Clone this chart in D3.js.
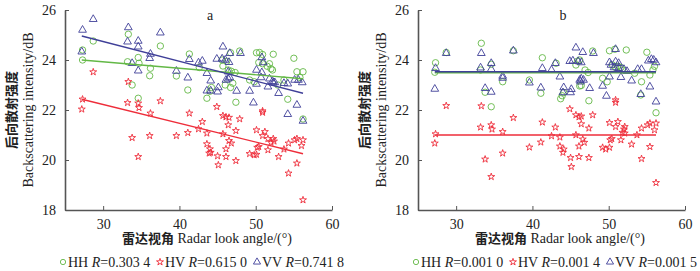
<!DOCTYPE html>
<html>
<head>
<meta charset="utf-8">
<script src="https://cdn.jsdelivr.net/npm/d3@7"></script>
<style>
body{margin:0;background:#fff}
text{font-family:"Liberation Serif","Times New Roman",serif;fill:#222}
.cn{font-family:"Noto Sans CJK SC",sans-serif;font-weight:700}
</style>
</head>
<body>
<svg id="svg1" width="700" height="271"></svg>
<script>
// panel a: raw values, panel b: after correction  [look angle, dB]
var aHH = [[27.3,24.4],[27.3,24.0],[28.7,24.76],[33.3,25.03],[33.2,23.93],[33.8,23.0],[34.6,24.1],[34.7,23.87],[34.6,22.47],[36.2,23.67],[36.1,23.37],[37.5,24.56],[39.6,23.36],[41.3,24.24],[41.1,22.8],
  [47.9,24.36],[50.1,24.29],[50.5,24.3],[50.9,24.22],[52.3,24.23],[55.0,24.07],[46.7,24.29],[45.7,23.76],[45.6,24.0],[46.2,23.95],[50.4,23.9],[50.9,23.85],[51.5,23.75],[51.8,23.85],[52.2,23.6],[52.0,23.65],
  [46.4,23.6],[46.8,23.55],[47.3,23.5],[49.2,23.2],[49.8,23.13],[46.0,23.0],[46.7,22.9],[47.0,23.07],[44.2,22.9],[44.0,22.75],[43.6,22.47],[47.4,22.31],[54.2,22.43],[53.7,23.2],[55.4,23.53],[56.2,23.53],
  [55.8,23.3],[56.2,21.64],[52.9,23.0],[42.6,23.7]];
var aHV = [[28.7,23.52],[27.3,22.43],[27.2,22.03],[33.3,23.13],[33.2,22.29],[34.6,22.27],[34.7,22.09],[36.2,21.87],[37.5,22.36],[41.3,21.87],[33.8,20.89],[36.1,20.97],[39.6,20.97],[41.1,21.09],[34.6,20.13],
  [44.9,22.13],[50.9,21.96],[50.9,21.9],[45.7,21.77],[46.1,21.72],[46.5,21.7],[47.9,21.64],[43.0,21.53],[46.4,21.4],[42.5,21.24],[43.6,21.07],[45.7,21.04],[47.4,21.17],[50.1,21.2],[51.2,21.13],[50.9,20.97],
  [51.6,20.85],[52.3,20.85],[52.4,20.75],[52.0,20.7],[46.5,20.77],[46.8,20.67],[43.6,20.64],[44.0,20.44],[44.1,20.3],[43.9,20.27],[46.1,20.44],[50.2,20.5],[50.4,20.53],[51.6,20.4],[53.7,20.43],[49.2,20.25],
  [49.8,20.2],[50.1,20.22],[55.1,20.8],[55.4,20.85],[56.2,20.8],[56.0,20.57],[54.3,20.67],[45.0,20.16],[46.1,20.13],[47.4,19.97],[45.1,19.8],[53.0,20.13],[55.4,19.87],[54.3,19.47],[56.2,18.4]];
var aVV = [[28.7,25.63],[27.3,25.2],[27.2,24.33],[33.3,25.3],[33.2,24.73],[34.6,24.76],[34.6,24.53],[36.2,24.24],[36.1,24.07],[33.8,23.87],[34.6,23.57],[37.5,25.09],[39.6,23.56],[41.1,23.29],[41.3,24.03],
  [45.7,24.53],[42.5,23.89],[43.0,23.96],[44.9,24.04],[45.6,24.05],[46.0,24.0],[46.5,23.91],[43.6,23.47],[46.4,23.53],[44.1,23.17],[46.1,23.2],[46.4,23.25],[46.6,23.3],[45.1,22.9],[45.0,22.73],[43.6,22.77],
  [44.1,22.77],[47.5,22.76],[48.0,24.27],[46.6,24.27],[50.1,23.6],[50.8,24.1],[51.0,23.9],[50.8,23.5],[50.7,23.3],[51.6,22.93],[49.2,22.76],[49.7,22.29],[50.1,23.04],[52.3,23.09],[52.5,23.1],[53.0,22.67],
  [53.7,23.07],[54.2,23.05],[55.1,23.2],[55.6,23.2],[56.1,23.1],[54.2,21.83],[55.4,22.2],[56.2,21.56],[51.8,23.25],[52.2,23.15]];

var bHH = [[28.7,24.3],[27.3,23.89],[27.2,23.51],[33.3,24.67],[33.2,23.6],[34.6,23.83],[33.8,22.71],[34.6,22.13],[36.1,23.13],[37.5,24.37],[39.6,23.2],[41.3,24.09],[41.1,22.67],
  [47.9,24.36],[50.1,24.37],[50.8,24.43],[52.3,24.4],[55.0,24.31],[43.1,23.87],[45.7,23.8],[46.2,24.0],[45.9,23.95],[50.5,23.8],[51.2,23.75],[51.6,23.7],[51.8,23.6],[50.9,23.7],[46.9,23.6],[47.3,23.5],
  [49.2,23.27],[49.8,23.13],[46.2,22.96],[46.4,22.98],[44.1,22.7],[43.7,22.45],[43.9,22.57],[47.4,22.37],[54.2,22.6],[54.3,23.13],[55.4,23.4],[56.0,23.75],[55.8,23.6],[56.2,21.89],[53.4,23.47]];
var bHV = [[28.7,22.17],[27.3,21.04],[27.2,20.67],[33.3,22.16],[33.2,21.31],[34.6,21.4],[34.7,21.23],[36.1,21.13],[37.5,21.69],[41.3,21.51],[33.8,20.03],[36.1,20.27],[39.6,20.51],[41.1,20.71],[34.6,19.33],
  [44.9,22.04],[50.9,22.4],[50.9,22.3],[45.7,21.8],[46.1,21.72],[46.4,21.75],[47.9,21.8],[43.0,21.31],[46.4,21.44],[47.4,21.27],[42.5,20.96],[43.6,20.91],[45.7,21.0],[50.1,21.49],[51.2,21.53],[50.9,21.33],
  [52.1,21.33],[52.0,21.23],[51.8,21.1],[52.1,21.07],[46.6,20.83],[46.8,20.7],[50.2,20.8],[50.4,20.85],[51.6,20.8],[53.7,21.0],[54.3,21.27],[55.1,21.4],[55.4,21.47],[56.2,21.47],[56.0,21.2],[43.6,20.55],
  [44.1,20.43],[44.0,20.3],[46.1,20.55],[49.2,20.5],[49.6,20.43],[50.1,20.5],[53.0,20.63],[55.4,20.53],[45.0,20.09],[46.1,20.13],[47.4,20.09],[45.1,19.73],[54.3,20.05],[56.2,19.09]];
var bVV = [[28.7,24.27],[27.3,23.67],[27.2,22.84],[33.3,24.27],[33.2,23.69],[34.6,23.87],[34.6,23.63],[36.1,23.36],[36.1,23.28],[33.8,22.87],[34.6,22.72],[37.5,24.37],[39.6,23.09],[41.3,23.67],[41.1,22.89],
  [45.7,24.49],[46.6,24.31],[48.0,24.27],[50.9,24.43],[43.0,23.87],[42.5,23.6],[44.9,23.95],[45.3,23.97],[46.0,23.95],[46.4,23.9],[43.6,23.33],[46.2,23.2],[46.4,23.25],[46.7,23.2],[46.3,23.13],[44.1,22.9],
  [44.0,22.7],[45.1,22.83],[45.0,22.7],[47.5,22.87],[50.1,23.9],[50.3,23.8],[50.9,23.93],[51.3,23.87],[50.7,23.7],[51.3,23.67],[52.0,23.63],[52.4,23.55],[50.1,23.33],[49.2,22.96],[49.7,22.56],[51.6,23.31],
  [53.0,23.17],[53.8,23.63],[54.3,23.63],[55.2,23.97],[55.6,24.03],[55.9,24.0],[56.2,23.9],[54.2,22.63],[55.4,22.93],[56.2,22.33]];

// fitted lines: [angle start, dB start, angle end, dB end]
var aFit = {HH:[27.2,24.0,56.2,23.25], HV:[27.2,22.43,56.2,20.25], VV:[27.2,24.96,56.2,22.67]};
var bFit = {HH:[27.2,23.49,56.2,23.49], HV:[27.2,21.0,56.2,21.0], VV:[27.2,23.53,56.2,23.53]};

var aR = ["0.303 4","0.615 0","0.741 8"];
var bR = ["0.001 0","0.001 4","0.001 5"];

var xTicks = [30,40,50,60];
var yTicks = [18,20,22,24,26];

var color = {HH:"#63b846", HV:"#ee2d3a", VV:"#3f3f98"};

var svg = d3.select("#svg1");

function drawPanel(left, label, HH, HV, VV, fit, rs){
    var g = svg.append("g");
    var x = d3.scaleLinear().domain([25,60]).range([left, left+267]);
    var y = d3.scaleLinear().domain([18,26]).range([210,10]);

    // axes, ticks pointing inward
    g.append("g").attr("transform","translate(0,210)")
        .call(d3.axisBottom(x).tickValues(xTicks).tickSizeInner(-4).tickSizeOuter(0).tickPadding(9));
    g.append("g").attr("transform","translate("+left+",0)")
        .call(d3.axisLeft(y).tickValues(yTicks).tickSizeInner(-4).tickSizeOuter(0).tickPadding(9));
    g.selectAll(".domain").attr("stroke","#555").attr("stroke-width",1.6);
    g.selectAll(".tick line").attr("stroke","#555");
    g.selectAll(".tick text").style("font-size","14px").style("font-family","Liberation Serif");

    g.append("text").attr("x",left+145).attr("y",20).attr("text-anchor","middle")
        .style("font-size","14px").text(label);

    // points
    g.append("g").selectAll("circle").data(HH).join("circle")
        .attr("cx",d=>x(d[0])).attr("cy",d=>y(d[1])).attr("r",3.2)
        .attr("fill","none").attr("stroke",color.HH).attr("stroke-width",0.9);
    g.append("g").selectAll("path").data(VV).join("path")
        .attr("d",d3.symbol(d3.symbolTriangle,26))
        .attr("transform",d=>"translate("+x(d[0])+","+y(d[1])+")")
        .attr("fill","none").attr("stroke",color.VV).attr("stroke-width",0.9);
    g.append("g").selectAll("path").data(HV).join("path")
        .attr("d",d3.symbol(d3.symbolStar,15))
        .attr("transform",d=>"translate("+x(d[0])+","+y(d[1])+")")
        .attr("fill","none").attr("stroke",color.HV).attr("stroke-width",0.9);

    // fitted lines
    ["HH","VV","HV"].forEach(function(k){
        var f = fit[k];
        g.append("line").attr("x1",x(f[0])).attr("y1",y(f[1])).attr("x2",x(f[2])).attr("y2",y(f[3]))
            .attr("stroke",color[k]).attr("stroke-width",1.3);
    });

    // y title
    var yt = g.append("g").attr("transform","translate("+(left-49)+",110) rotate(-90)");
    yt.append("text").attr("class","cn").attr("y",0).attr("text-anchor","middle")
        .style("font-size","13px").text("后向散射强度");
    yt.append("text").attr("y",17).attr("text-anchor","middle")
        .style("font-size","14px").text("Backscattering intensity/dB");

    // x title
    var xt = g.append("text").attr("x",left+142).attr("y",243).attr("text-anchor","middle").style("font-size","14px");
    xt.append("tspan").attr("class","cn").style("font-size","13px").text("雷达视角");
    xt.append("tspan").text(" Radar look angle/(°)");

    // legend
    var names = ["HH","HV","VV"];
    var lx = [left-2, left+95, left+192];
    names.forEach(function(k,i){
        var sx = lx[i];
        var sym = g.append("path").attr("transform","translate("+sx+",262)")
            .attr("fill","none").attr("stroke",color[k]).attr("stroke-width",0.9);
        if(k=="HH") sym.attr("d",d3.symbol(d3.symbolCircle,22));
        if(k=="HV") sym.attr("d",d3.symbol(d3.symbolStar,15));
        if(k=="VV") sym.attr("d",d3.symbol(d3.symbolTriangle,22));
        var t = g.append("text").attr("x",sx+5).attr("y",267).style("font-size","14px");
        t.append("tspan").text(k+" ");
        t.append("tspan").style("font-style","italic").text("R");
        t.append("tspan").text("="+rs[i]);
    });
}

drawPanel(65, "a", aHH, aHV, aVV, aFit, aR);
drawPanel(418, "b", bHH, bHV, bVV, bFit, bR);
</script>
</body>
</html>
